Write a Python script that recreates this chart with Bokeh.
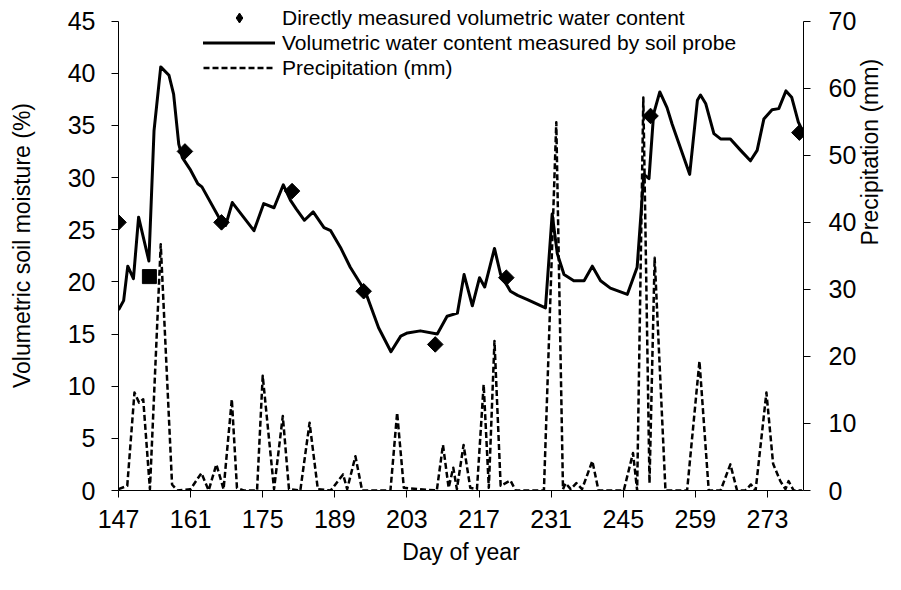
import math
from bokeh.plotting import figure
from bokeh.models import (Range1d, LinearAxis, FixedTicker, Legend, LegendItem)
from bokeh.embed import file_html
from bokeh.resources import INLINE

# Soil probe volumetric water content (%)
probe_day = [147.1, 148.0, 148.8, 149.9, 150.9, 152.9, 153.9, 155.2, 156.8, 157.7,
             158.7, 159.4, 161.0, 162.4, 163.2, 166.8, 167.8, 169.1, 173.3, 175.2,
             177.2, 179.0, 180.4, 181.5, 183.1, 184.8, 186.9, 188.2, 190.1, 192.0,
             194.9, 197.5, 199.9, 201.8, 203.1, 205.6, 208.9, 210.8, 212.8, 214.1,
             215.7, 217.1, 218.1, 220.0, 221.2, 223.1, 224.5, 226.4, 229.9, 231.2,
             232.2, 233.5, 235.4, 237.4, 239.0, 240.6, 242.5, 245.8, 247.7, 249.0,
             250.0, 250.9, 252.1, 253.5, 254.5, 257.9, 259.4, 260.0, 261.0, 262.6,
             263.9, 265.8, 267.8, 269.7, 271.0, 272.3, 273.9, 275.2, 276.6, 277.7,
             279.0, 280.0]
probe_vwc = [17.4, 18.2, 21.5, 20.3, 26.2, 22.0, 34.5, 40.6, 39.8, 38.0,
             33.2, 31.9, 30.7, 29.4, 29.1, 25.9, 25.4, 27.6, 24.9, 27.5,
             27.1, 29.3, 27.8, 27.0, 25.9, 26.7, 25.2, 24.9, 23.3, 21.4,
             19.1, 15.6, 13.3, 14.8, 15.1, 15.3, 15.0, 16.7, 17.0, 20.7,
             17.7, 20.4, 19.5, 23.2, 20.7, 19.1, 18.7, 18.3, 17.5, 26.5,
             22.7, 20.7, 20.1, 20.1, 21.5, 20.1, 19.4, 18.8, 21.4, 30.3,
             29.9, 36.1, 38.2, 36.7, 35.1, 30.3, 37.4, 37.9, 37.1, 34.2,
             33.7, 33.7, 32.6, 31.6, 32.6, 35.6, 36.5, 36.6, 38.3, 37.7,
             35.3, 34.3]

# Directly measured volumetric water content (%)
direct_day = [147.0, 159.9, 167.0, 180.7, 194.6, 208.5, 222.3, 250.3, 279.2]
direct_vwc = [25.7, 32.5, 25.7, 28.7, 19.1, 14.0, 20.4, 35.9, 34.3]

# Extra single measurement (square marker)
square_day = [153.0]
square_vwc = [20.5]

# Precipitation (mm)
rain_day = [147.0, 148.7, 150.1, 151.0, 151.8, 153.1, 155.2, 157.4, 158.4, 161.0,
            163.1, 164.5, 166.0, 167.4, 169.0, 170.0, 171.3, 173.9, 175.0, 177.2,
            178.9, 180.1, 182.3, 184.1, 185.7, 188.2, 190.6, 191.4, 193.0, 194.3,
            199.8, 201.1, 202.4, 205.3, 208.8, 210.0, 211.1, 212.0, 212.7, 214.0,
            215.3, 216.6, 217.9, 218.9, 220.0, 221.2, 223.1, 224.1, 229.6, 232.0,
            233.3, 233.8, 234.8, 235.9, 237.0, 239.0, 240.2, 245.1, 246.9, 247.7,
            248.9, 250.1, 251.1, 253.2, 257.4, 259.8, 261.6, 263.9, 265.8, 267.1,
            268.7, 269.8, 270.7, 272.8, 274.1, 275.5, 276.5, 277.1, 278.1, 279.7]
rain_mm = [0.2, 0.7, 14.6, 13.1, 13.6, 0.2, 36.7, 0.9, 0.0, 0.2,
           2.6, 0.0, 3.9, 0.2, 13.6, 0.4, 0.0, 0.0, 17.1, 0.2,
           11.1, 0.2, 0.0, 10.1, 0.2, 0.0, 2.4, 0.2, 5.1, 0.0,
           0.0, 11.6, 0.4, 0.2, 0.0, 6.8, 0.4, 3.4, 0.2, 6.8,
           0.4, 0.2, 15.8, 0.4, 22.3, 0.7, 1.5, 0.0, 0.0, 54.9,
           0.2, 1.1, 0.2, 1.1, 0.2, 4.4, 0.0, 0.0, 5.6, 0.0,
           58.6, 1.1, 34.7, 0.0, 0.0, 19.3, 0.0, 0.0, 3.9, 0.0,
           0.0, 0.9, 0.0, 14.6, 4.0, 1.4, 0.2, 1.4, 0.0, 0.0]

x_ticks = [147, 161, 175, 189, 203, 217, 231, 245, 259, 273]
left_ticks = [0, 5, 10, 15, 20, 25, 30, 35, 40, 45]
right_ticks = [0, 10, 20, 30, 40, 50, 60, 70]

FONT = "Liberation Sans"

# the frame reaches to the top edge so the legend is not clipped;
# the axes themselves stop at 45 % and 70 mm
LEFT_MAX, RIGHT_MAX = 45, 70
STRETCH = 490.0 / 469.5

p = figure(width=901, height=590, output_backend="svg", toolbar_location=None,
           x_range=Range1d(147, 280), y_range=Range1d(0, LEFT_MAX * STRETCH),
           min_border_left=118, min_border_right=98, min_border_top=0,
           min_border_bottom=100)
p.extra_y_ranges = {"rain": Range1d(0, RIGHT_MAX * STRETCH)}
p.grid.visible = False
p.outline_line_color = None
p.background_fill_color = "white"
p.border_fill_color = "white"

def style_axis(ax):
    ax.major_label_text_font = FONT
    ax.major_label_text_font_size = "25px"
    ax.major_label_text_color = "black"
    ax.axis_label_text_font = FONT
    ax.axis_label_text_font_size = "23px"
    ax.axis_label_text_font_style = "normal"
    ax.axis_label_text_color = "black"
    ax.axis_line_color = "black"
    ax.axis_line_width = 1
    ax.major_tick_line_color = "black"
    ax.major_tick_in = 0
    ax.major_tick_out = 7
    ax.minor_tick_line_color = None

xa = p.xaxis[0]
xa.ticker = FixedTicker(ticks=x_ticks)
xa.axis_label = "Day of year"
style_axis(xa)
xa.major_label_standoff = 12
xa.axis_label_standoff = 8

ya = p.yaxis[0]
ya.ticker = FixedTicker(ticks=left_ticks)
ya.bounds = (0, LEFT_MAX)
ya.axis_label = "Volumetric soil moisture (%)"
style_axis(ya)
ya.major_label_standoff = 16
ya.axis_label_standoff = 30

ra = LinearAxis(y_range_name="rain", ticker=FixedTicker(ticks=right_ticks),
                axis_label="Precipitation (mm)", bounds=(0, RIGHT_MAX))
style_axis(ra)
ra.major_label_standoff = 18
ra.axis_label_standoff = 11
try:
    ra.axis_label_orientation = math.pi / 2   # read bottom-to-top
except Exception:
    pass
p.add_layout(ra, "right")

rain = p.line(rain_day, rain_mm, y_range_name="rain", line_color="black",
              line_width=2.5, line_dash="6 3", line_join="round")
probe = p.line(probe_day, probe_vwc, line_color="black", line_width=3,
               line_join="round", line_cap="round")
# narrow diamonds hidden beneath the square diamonds; they give the legend key
direct_key = p.scatter(direct_day, direct_vwc, marker="diamond", size=14,
                       fill_color="black", line_color="black")
p.scatter(direct_day, direct_vwc, marker="square", size=11,
          angle=math.pi / 4, fill_color="black", line_color="black")
p.scatter(square_day, square_vwc, marker="square", size=14,
          fill_color="black", line_color="black")

legend = Legend(items=[
    LegendItem(label="Directly measured volumetric water content", renderers=[direct_key]),
    LegendItem(label="Volumetric water content measured by soil probe", renderers=[probe]),
    LegendItem(label="Precipitation (mm)", renderers=[rain]),
], location=(85, 410))
legend.glyph_width = 72
legend.glyph_height = 25
legend.label_height = 25
legend.label_standoff = 7
legend.spacing = 0
legend.padding = 0
legend.margin = 0
legend.border_line_color = None
legend.background_fill_alpha = 0
legend.label_text_font = FONT
legend.label_text_font_size = "21px"
legend.label_text_color = "black"
p.add_layout(legend)

open("out.html", "w").write(file_html(p, INLINE))
